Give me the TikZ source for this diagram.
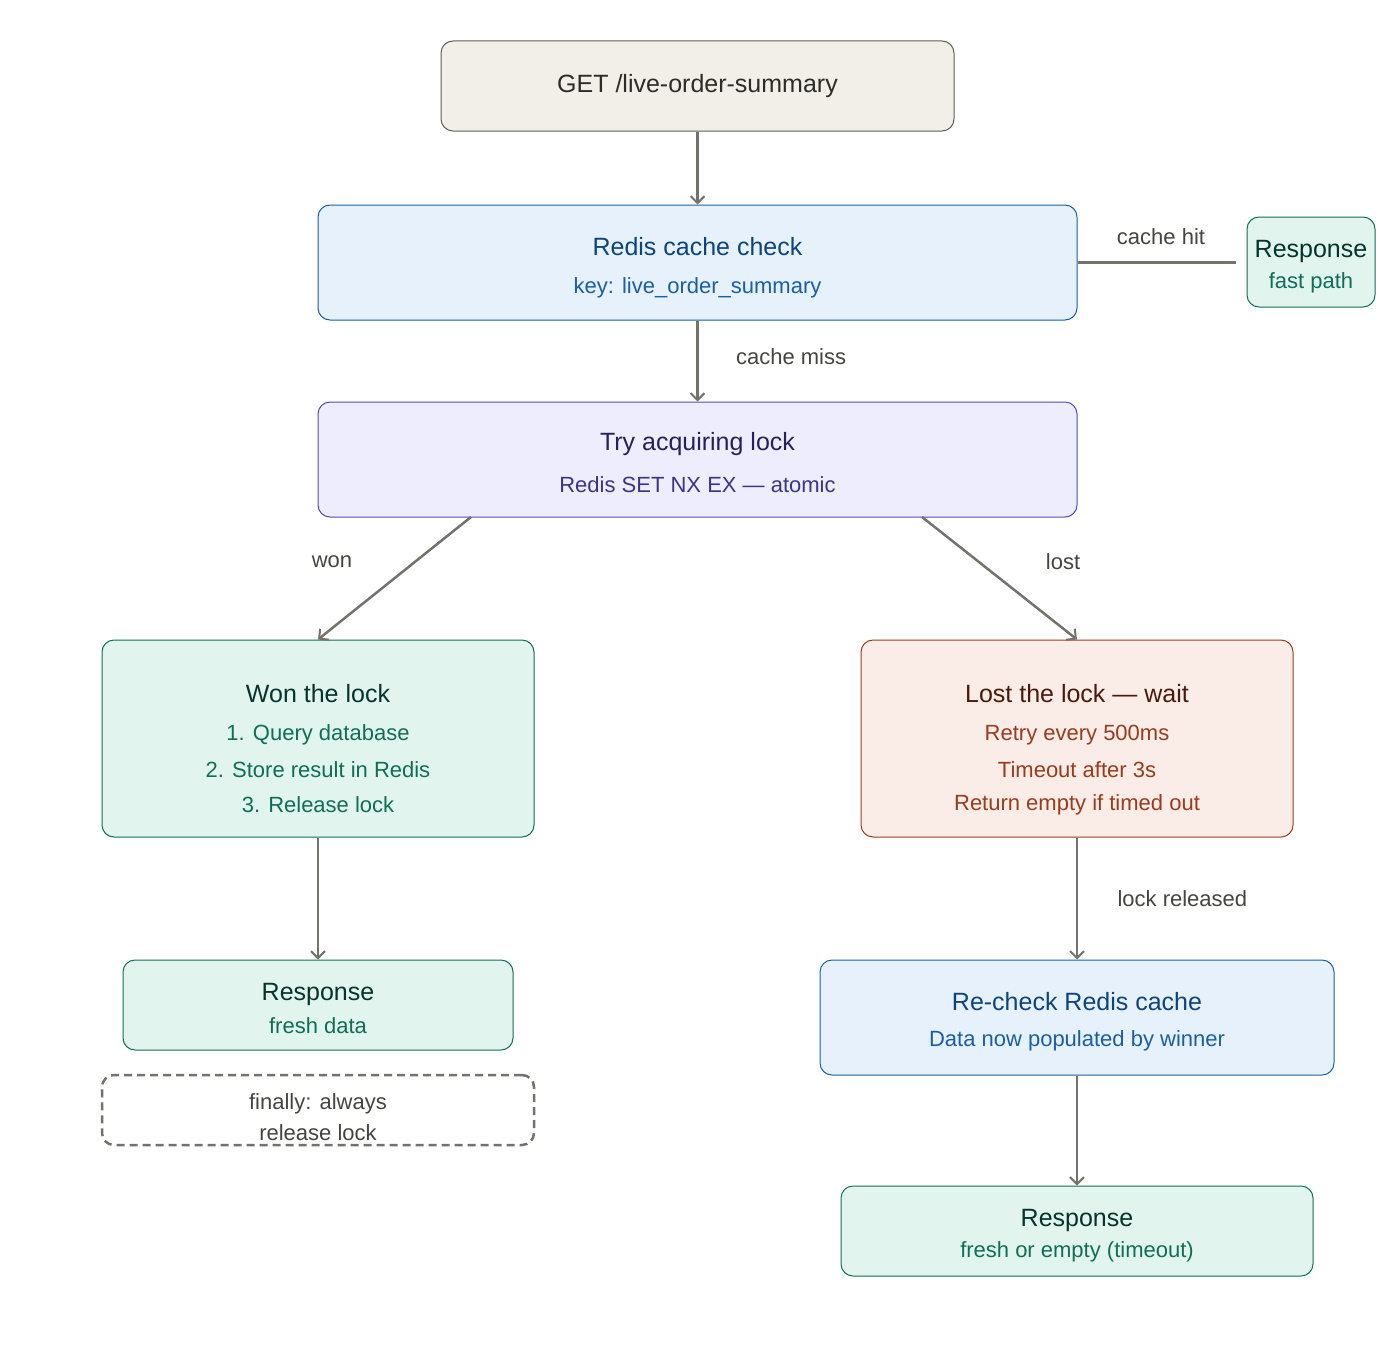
\documentclass[tikz,border=0pt]{standalone}
\usepackage{fontspec}
\setmainfont{Liberation Sans}
\usetikzlibrary{arrows.meta}
\definecolor{gfill}{HTML}{F1EFE8}\definecolor{gdraw}{HTML}{5F5E5A}\definecolor{gtxt}{HTML}{2C2C2A}
\definecolor{bfill}{HTML}{E6F1FB}\definecolor{bdraw}{HTML}{185FA5}\definecolor{btit}{HTML}{0C447C}
\definecolor{tfill}{HTML}{E1F5EE}\definecolor{tdraw}{HTML}{0F6E56}\definecolor{ttit}{HTML}{04342C}
\definecolor{pfill}{HTML}{EEEDFE}\definecolor{pdraw}{HTML}{534AB7}\definecolor{ptit}{HTML}{26215C}\definecolor{psub}{HTML}{3C3489}
\definecolor{cfill}{HTML}{FAECE7}\definecolor{cdraw}{HTML}{993C1D}\definecolor{ctit}{HTML}{4A1B0C}
\definecolor{arr}{HTML}{73726C}\definecolor{lbl}{HTML}{444441}
\begin{document}
\begin{tikzpicture}[x=1pt,y=-1pt,
  box/.style={draw,rounded corners=12pt,line width=1pt,inner sep=0pt},
  tit/.style={font=\fontsize{25}{30}\selectfont},
  sub/.style={font=\fontsize{22}{26}\selectfont},
  lab/.style={font=\fontsize{22}{26}\selectfont,text=lbl},
  con/.style={draw=arr,line width=2.5pt,-{Straight Barb[length=7pt,width=14pt,line width=2pt]}}]
\useasboundingbox (0,0) rectangle (1400,1354);
\node[box,fill=gfill,draw=gdraw,minimum width=513pt,minimum height=90pt] (get) at (697.5,86) {};
\node[tit,text=gtxt] at (get.center) {GET /live-order-summary};
\node[box,fill=bfill,draw=bdraw,minimum width=759pt,minimum height=115pt] (cache) at (697.5,262.5) {};
\node[tit,text=btit] at (697.5,247) {Redis cache check};
\node[sub,text=bdraw] at (697.5,288) {key: live\_order\_summary};
\node[box,fill=tfill,draw=tdraw,minimum width=128pt,minimum height=90pt] (r1) at (1311,262) {};
\node[tit,text=ttit] at (1311,251) {Response};
\node[sub,text=tdraw] at (1311,283) {fast path};
\node[box,fill=pfill,draw=pdraw,minimum width=759pt,minimum height=115pt] (lock) at (697.5,459.5) {};
\node[tit,text=ptit] at (697.5,444) {Try acquiring lock};
\node[sub,text=psub] at (697.5,485) {Redis SET NX EX — atomic};
\node[box,fill=tfill,draw=tdraw,minimum width=432pt,minimum height=197pt] (won) at (318,738.5) {};
\node[tit,text=ttit] at (318,694) {Won the lock};
\node[sub,text=tdraw] at (318,735) {1. Query database};
\node[sub,text=tdraw] at (318,770) {2. Store result in Redis};
\node[sub,text=tdraw] at (318,805) {3. Release lock};
\node[box,fill=cfill,draw=cdraw,minimum width=432pt,minimum height=197pt] (lost) at (1077,738.5) {};
\node[tit,text=ctit] at (1077,694) {Lost the lock — wait};
\node[sub,text=cdraw] at (1077,735) {Retry every 500ms};
\node[sub,text=cdraw] at (1077,770) {Timeout after 3s};
\node[sub,text=cdraw] at (1077,805) {Return empty if timed out};
\node[box,fill=tfill,draw=tdraw,minimum width=390pt,minimum height=90pt] (r2) at (318,1005) {};
\node[tit,text=ttit] at (318,994) {Response};
\node[sub,text=tdraw] at (318,1026) {fresh data};
\node[box,draw=arr,dashed,dash pattern=on 8pt off 5pt,line width=2.5pt,minimum width=432pt,minimum height=70pt] (fin) at (318,1110) {};
\node[sub,text=lbl] at (318,1104) {finally: always};
\node[sub,text=lbl] at (318,1133) {release lock};
\node[box,fill=bfill,draw=bdraw,minimum width=514pt,minimum height=115pt] (re) at (1077,1017.5) {};
\node[tit,text=btit] at (1077,1002) {Re-check Redis cache};
\node[sub,text=bdraw] at (1077,1041) {Data now populated by winner};
\node[box,fill=tfill,draw=tdraw,minimum width=472pt,minimum height=90pt] (r3) at (1077,1231) {};
\node[tit,text=ttit] at (1077,1220) {Response};
\node[sub,text=tdraw] at (1077,1252) {fresh or empty (timeout)};
\coordinate (hitend) at (1236,262.5);
\draw[draw=arr,line width=2.5pt] (cache.east) -- (hitend);
\node[lab] at (1161,237) {cache hit};
\draw[con] (get) -- (cache);
\draw[con] (cache) -- (lock) node[lab,pos=0.45,right=34pt] {cache miss};
\draw[con] (471,517) -- (won.north);
\node[lab] at (332,562) {won};
\draw[con] (922,517) -- (lost.north);
\node[lab] at (1063,562) {lost};
\draw[con] (won) -- (r2);
\draw[con] (lost) -- (re) node[lab,midway,right=36pt] {lock released};
\draw[con] (re) -- (r3);
\end{tikzpicture}
\end{document}
